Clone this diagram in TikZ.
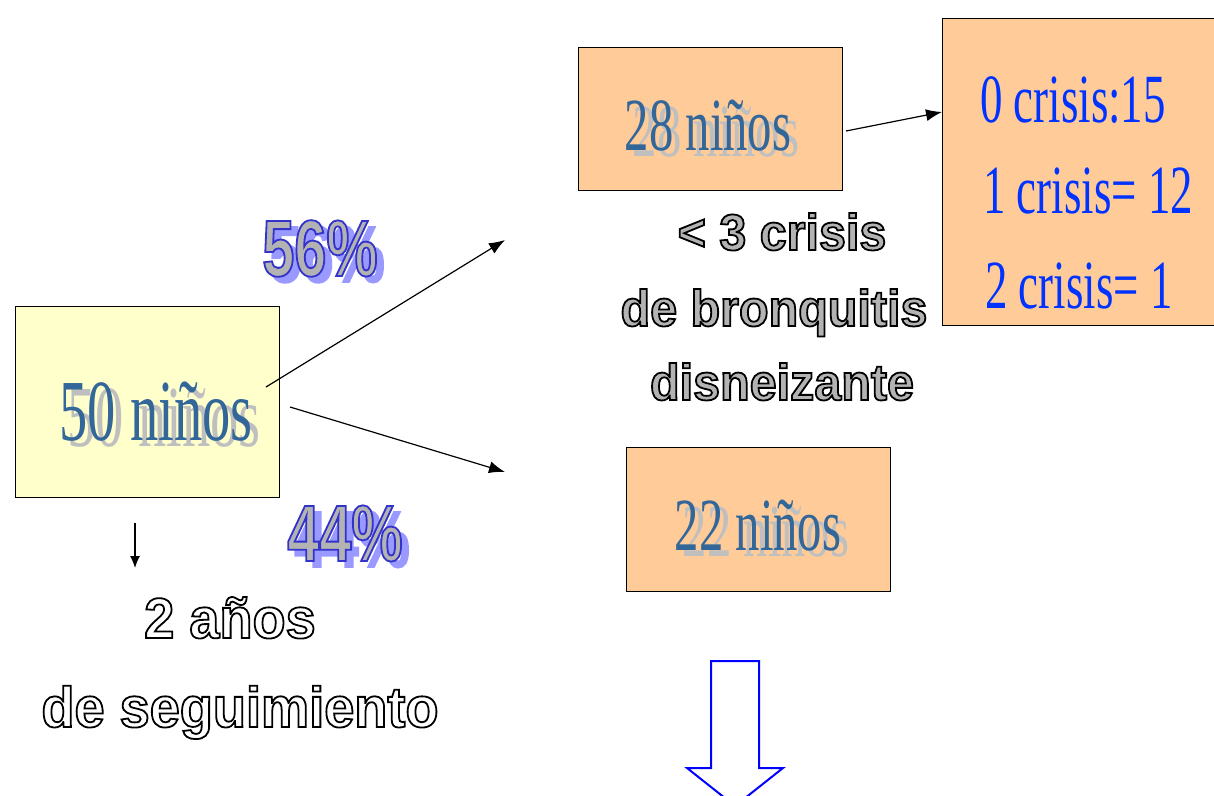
\documentclass[tikz,border=0pt]{standalone}
\usepackage{fontspec}
\usetikzlibrary{arrows.meta}
\setmainfont{Liberation Serif}
\newfontfamily\romana{Liberation Serif}[FakeStretch=0.65]
\newfontfamily\palo{Liberation Sans}[FakeStretch=0.95]
\newfontfamily\palocorto{Liberation Sans}[FakeStretch=0.72]
\definecolor{amarillo}{HTML}{FFFFCC}
\definecolor{salmon}{HTML}{FFCC99}
\definecolor{azulnino}{HTML}{336699}
\definecolor{gristrasero}{HTML}{BFBFBF}
\definecolor{azulcrisis}{HTML}{0033FF}
\definecolor{grisletra}{HTML}{B3B3B3}
\definecolor{azulsombra}{HTML}{9999FF}
% texto con trazo (relleno, trazo en rgb)
\newcommand{\trazada}[3]{\textcolor{#1}{\special{pdf:literal direct #2 RG 2 Tr 1.8 w}#3\special{pdf:literal direct 0 Tr}}}
\newcommand{\sombrada}[1]{\makebox[0pt][l]{\hspace{8pt}\raisebox{-6pt}{\textcolor{gristrasero}{#1}}}\textcolor{azulnino}{#1}}
\newcommand{\hueca}[2]{\trazada{#1}{0 0 0}{#2}}
\newcommand{\porcentaje}[1]{\makebox[0pt][l]{\hspace{7pt}\raisebox{-6pt}{\trazada{azulsombra}{0.6 0.6 1}{#1}}}\trazada{grisletra}{0.2 0.2 0.8}{#1}}
\tikzset{
  caja/.style={draw=black, line width=1pt, inner sep=0pt},
  flecha/.style={-{Latex[length=16pt,width=12pt]}, line width=1.2pt},
  ninos/.style={anchor=base, inner sep=0pt, font=\romana\fontsize{75}{75}\selectfont},
  crisis/.style={anchor=base west, inner sep=0pt, text=azulcrisis, font=\romana\fontsize{69}{69}\selectfont},
  rotulo/.style={anchor=base, inner sep=0pt, font=\palo\bfseries\fontsize{51}{51}\selectfont},
  cifra/.style={anchor=base, inner sep=0pt, font=\palocorto\bfseries\fontsize{80}{80}\selectfont}
}
\begin{document}
\begin{tikzpicture}[x=1pt,y=-1pt]
  \useasboundingbox (0,0) rectangle (1214,795);
  \clip (0,0) rectangle (1214,795);
  % cajas
  \node[caja, fill=amarillo, minimum width=264pt, minimum height=191pt] (grupo) at (147,401.5) {};
  \node[caja, fill=salmon, minimum width=264pt, minimum height=143pt] (pocas) at (710,118.5) {};
  \node[caja, fill=salmon, minimum width=276pt, minimum height=307pt] (resumen) at (1080,171.5) {};
  \node[caja, fill=salmon, minimum width=264pt, minimum height=144pt] (resto) at (758,519) {};
  % textos de las cajas
  \node[ninos, font=\romana\fontsize{87}{87}\selectfont] (t50) at (156,440) {\sombrada{50 niños}};
  \node[ninos] (t28) at (708,150) {\sombrada{28 niños}};
  \node[ninos] (t22) at (758,550) {\sombrada{22 niños}};
  \node[crisis] (cero) at (980,122) {0 crisis:15};
  \node[crisis] (uno) at (983,213) {1 crisis=\,12};
  \node[crisis] (dos) at (985,308) {2 crisis=\,1};
  % porcentajes
  \node[cifra] (p56) at (320,276) {\porcentaje{56\%}};
  \node[cifra] (p44) at (345,561) {\porcentaje{44\%}};
  % rotulos
  \node[rotulo] (menos) at (782,250) {\hueca{grisletra}{< 3 crisis}};
  \node[rotulo] (bronq) at (774,326) {\hueca{grisletra}{de bronquitis}};
  \node[rotulo] (disn) at (782,400) {\hueca{grisletra}{disneizante}};
  \node[rotulo, font=\palo\bfseries\fontsize{57}{57}\selectfont] (anos) at (230,638) {\hueca{white}{2 años}};
  \node[rotulo, font=\palo\bfseries\fontsize{57}{57}\selectfont] (segui) at (240,727) {\hueca{white}{de seguimiento}};
  % flechas
  \coordinate (sale1) at (266,387);
  \coordinate (llega1) at (505,240);
  \coordinate (sale2) at (290,407);
  \coordinate (llega2) at (505,472);
  \coordinate (sale3) at (846,131);
  \coordinate (llega3) at (942,112);
  \coordinate (sale4) at (135,523);
  \coordinate (llega4) at (135,568);
  \draw[flecha] (sale1) -- (llega1);
  \draw[flecha] (sale2) -- (llega2);
  \draw[flecha] (sale3) -- (llega3);
  \draw[-{Latex[length=12pt,width=10pt]}, line width=1.2pt] (sale4) -- (llega4);
  % flecha hueca
  \draw[blue, line width=2pt] (711,661) -- (759,661) -- (759,768) -- (783,768) -- (735,806)
    -- (687,768) -- (711,768) -- cycle;
\end{tikzpicture}
\end{document}
